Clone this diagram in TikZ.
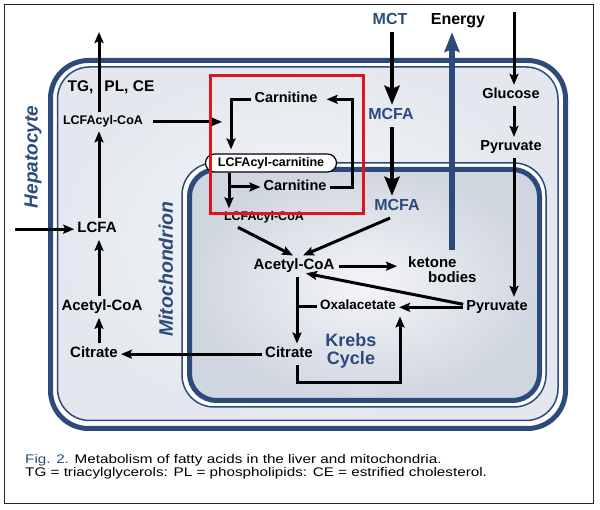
\documentclass[tikz,border=0pt]{standalone}
\usepackage{fontspec}
\setmainfont{Liberation Sans}
\newfontfamily\capfont[FakeStretch=1.22]{Liberation Sans}
\usetikzlibrary{arrows.meta}
\definecolor{memb}{RGB}{44,74,124}
\definecolor{redbox}{RGB}{225,20,30}
\definecolor{cellin}{RGB}{246,247,249}
\definecolor{cellout}{RGB}{228,232,238}
\definecolor{mitoin}{RGB}{244,245,248}
\definecolor{mitoout}{RGB}{208,214,224}
\begin{document}
\begin{tikzpicture}[x=1pt,y=-1pt,
  lab/.style={font=\bfseries\fontsize{#1}{#1}\selectfont, inner xsep=3pt, inner ysep=3.5pt,
              text height={0.72*#1pt}, text depth={0.21*#1pt}, anchor=base},
  arr/.style={line width=3pt, line join=miter, -{Stealth[length=11pt,width=9pt,inset=2pt]}},
  bigarr/.style={line width=4.5pt, -{Stealth[length=19pt,width=15pt,inset=3pt]}},
  enarr/.style={memb, line width=6pt, -{Stealth[length=20pt,width=15pt,inset=3pt]}},
  pillst/.style={draw=black, line width=1.2pt, fill=white, rounded corners=9pt,
                 minimum width=131pt, minimum height=18pt, inner sep=0pt,
                 font=\bfseries\fontsize{12.5}{12.5}\selectfont},
  side/.style={font=\bfseries\itshape\fontsize{#1}{#1}\selectfont, text=memb, rotate=90, inner sep=0pt}
]
\useasboundingbox (0,0) rectangle (600,510);
% frame
\draw[black!85, line width=1.6pt] (4.5,4.5) rectangle (593.5,503.5);
% hepatocyte membrane
\draw[memb, line width=5pt, fill=white, rounded corners=38pt] (50.5,60.5) rectangle (565.5,428.5);
\draw[memb, line width=1.5pt, inner color=cellin, outer color=cellout, rounded corners=32pt] (57.5,67) rectangle (558,420.5);
% mitochondrion
\draw[memb, line width=1.5pt, fill=white, rounded corners=32pt] (182,163) rectangle (546,407);
\draw[memb, line width=5pt, inner color=mitoin, outer color=mitoout, rounded corners=27pt] (189.5,169.5) rectangle (539.5,400.5);

% labels
\node[side=19] (hep) at (33,157) {Hepatocyte};
\node[side=19.5] (mito) at (166,269) {Mitochondrion};
\node[lab=15.5] (tg) at (111,91.5) {TG,\hspace{11pt}PL, CE};
\node[lab=12.5] (lacoa1) at (103,125) {LCFAcyl-CoA};
\node[lab=15] (lcfa) at (97,233) {LCFA};
\node[lab=15] (acl) at (102,311) {Acetyl-CoA};
\node[lab=15] (citl) at (94,358) {Citrate};
\node[lab=14.5] (carn1) at (286,103) {Carnitine};
\node[pillst] (pill) at (271,163) {LCFAcyl-carnitine};
\node[lab=14.5] (carn2) at (295,191) {Carnitine};
\node[lab=12.5] (lacoa2) at (264,221) {LCFAcyl-CoA};
\node[lab=16, text=memb] (mct) at (390,25) {MCT};
\node[lab=16] (energy) at (458,25) {Energy};
\node[lab=16, text=memb] (mcfa1) at (391,120) {MCFA};
\node[lab=16, text=memb] (mcfa2) at (397,211) {MCFA};
\node[lab=14.5] (glucose) at (511,99) {Glucose};
\node[lab=14.5] (pyr1) at (511,151) {Pyruvate};
\node[lab=15] (acoa) at (294,270) {Acetyl-CoA};
\node[anchor=north west, align=left, inner xsep=3pt, inner ysep=3.5pt,
      font=\bfseries\fontsize{15}{15}\selectfont] (ketone) at (405,252.5) {ketone\\\hspace*{20pt}bodies};
\node[lab=14.5] (pyr2) at (497,311) {Pyruvate};
\node[lab=13.5] (oxal) at (358,310) {Oxalacetate};
\node[lab=15] (citr) at (289,358) {Citrate};
\node[font=\bfseries\fontsize{18}{18}\selectfont, text=memb, align=center, inner sep=0pt] (krebs) at (351,351) {Krebs\\Cycle};
\node[anchor=north west, align=left, inner sep=0pt, font=\capfont\fontsize{12.5}{13}\selectfont] (cap) at (25,454)
  {\textcolor{memb}{Fig. 2.} Metabolism of fatty acids in the liver and mitochondria.\\
   TG = triacylglycerols: PL = phospholipids: CE = estrified cholesterol.};

% helper coordinates
\coordinate (colL) at (99,0);
\coordinate (topL) at (99,32);
\coordinate (inL) at (15,0);
\coordinate (rbIn) at (222,0);
\coordinate (colP) at (231,0);
\coordinate (colQ) at (229,0);
\coordinate (branch) at (229,187);
\coordinate (loopR) at (352,140);
\coordinate (colM) at (392,0);
\coordinate (colE) at (452,0);
\coordinate (enStart) at (452,250);
\coordinate (colR) at (514,0);
\coordinate (topR) at (514,12);
\coordinate (colC) at (297,0);
\coordinate (loopB) at (400,383);

% connectors
\draw[arr] (lacoa1.north -| colL) -- (topL);
\draw[arr] (lcfa.north -| colL) -- (lacoa1.south -| colL);
\draw[arr] (inL |- lcfa.west) -- (lcfa.west);
\draw[arr] (acl.north -| colL) -- (lcfa.south -| colL);
\draw[arr] (citl.north -| colL) -- (acl.south -| colL);
\draw[arr] (citr.west) -- (citl.east);
\draw[arr, shorten <=7pt] (lacoa1.east) -- (rbIn |- lacoa1.east);
\draw[arr, shorten >=4pt] (carn1.west) -| (pill.north -| colP);
\draw[arr] (pill.south -| colQ) -- (lacoa2.north -| colQ);
\draw[arr] (branch) -- (carn2.west |- branch);
\draw[arr, shorten >=6pt] (carn2.east) -| (loopR) |- (carn1.east);
\draw[bigarr] (mct.south -| colM) -- (mcfa1.north -| colM);
\draw[bigarr] (mcfa1.south -| colM) -- (mcfa2.north -| colM);
\draw[arr] ([xshift=-7pt]mcfa2.south) -- ([xshift=9pt]acoa.north);
\draw[arr] ([xshift=-26pt]lacoa2.south) -- ([xshift=-1pt]acoa.north);
\draw[arr, shorten <=1pt, shorten >=8pt] (acoa.east) -- (ketone.west |- acoa.east);
\draw[enarr] (enStart) -- (energy.south -| colE);
\draw[arr] (topR) -- (glucose.north -| colR);
\draw[arr] (glucose.south -| colR) -- (pyr1.north -| colR);
\draw[arr] (pyr1.south -| colR) -- (pyr2.north -| colR);
\draw[arr] (pyr2.west) -- (oxal.east |- pyr2.west);
\draw[arr] ([yshift=3pt]pyr2.west) -- ([xshift=12pt,yshift=3.5pt]acoa.south);
\draw[arr] (acoa.south -| colC) -- (citr.north -| colC);
\draw[line width=3pt] (oxal.west) -- (oxal.west -| colC);
\draw[arr] (citr.south -| colC) |- (loopB) -- (oxal.south -| loopB);

% red highlight box
\draw[redbox, line width=3pt] (210,76) rectangle (363,214);
\end{tikzpicture}
\end{document}
